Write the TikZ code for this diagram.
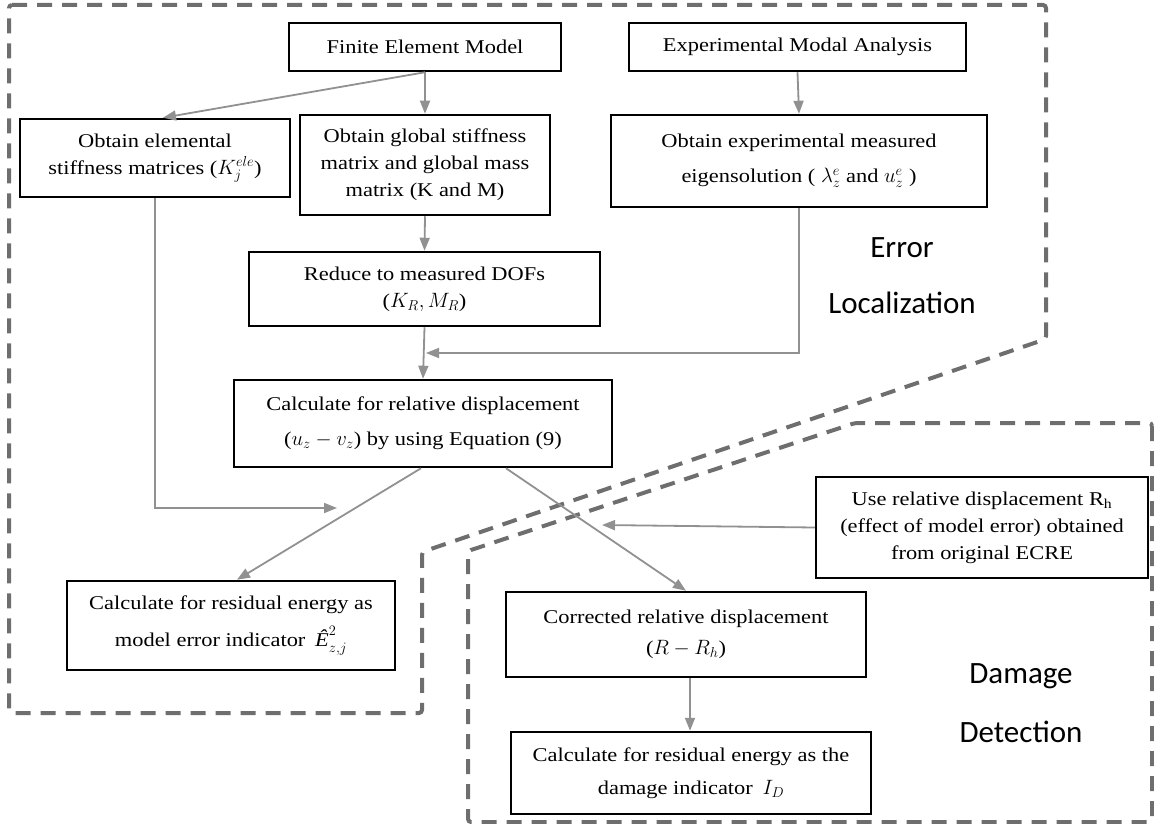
\documentclass[tikz,border=0pt]{standalone}
\usepackage{fontspec}
\setmainfont{Liberation Serif}[FakeStretch=1.15]
\newfontfamily\labelfont{Carlito}
\usetikzlibrary{arrows.meta,calc}

\definecolor{regiongray}{RGB}{110,110,110}
\definecolor{arrowgray}{RGB}{145,145,145}

\tikzset{
  stepbox/.style={draw=black, line width=2.5pt, fill=white, inner sep=2pt,
    align=center, font=\fontsize{19.5}{27}\selectfont},
  flow/.style={draw=arrowgray, line width=1.8pt,
    -{Triangle[length=13pt,width=10pt]}},
  region/.style={draw=regiongray, line width=4pt, dash pattern=on 15pt off 10pt,
    rounded corners=3pt},
  regionlabel/.style={font=\labelfont\fontsize{31}{36}\selectfont, anchor=base}
}

\begin{document}
\begin{tikzpicture}[x=1pt,y=-1pt]
\useasboundingbox (0,0) rectangle (1154,824);

% dashed regions
\draw[region] (9,5) -- (1046,5) -- (1046,339) -- (422,552) -- (422,713) -- (9,713) -- cycle;
\draw[region] (1152,423) -- (1152,822) -- (468,822) -- (468,551) -- (855,423) -- cycle;

% region titles
\node[regionlabel] (errA) at (902,257) {Error};
\node[regionlabel] (errB) at (902,313) {Localization};
\node[regionlabel] (dmgA) at (1021,683) {Damage};
\node[regionlabel] (dmgB) at (1021,742) {Detection};

% process boxes
\node[stepbox, minimum width=272pt, minimum height=48pt] (fem) at (425,47)
  {Finite Element Model};
\node[stepbox, minimum width=337pt, minimum height=48pt] (ema) at (797.5,47)
  {Experimental Modal Analysis};
\node[stepbox, minimum width=270pt, minimum height=78pt] (ele) at (155,158)
  {Obtain elemental\\stiffness matrices ($K_j^{ele}$)};
\node[stepbox, minimum width=250pt, minimum height=100pt] (glob) at (425,165)
  {Obtain global stiffness\\matrix and global mass\\matrix (K and M)};
\node[stepbox, minimum width=376pt, minimum height=92pt] (eig) at (799,161)
  {Obtain experimental measured\\[8pt]eigensolution ( $\lambda_z^e$ and $u_z^e$ )};
\node[stepbox, minimum width=351pt, minimum height=74pt] (red) at (424.5,289)
  {Reduce to measured DOFs\\($K_R, M_R$)};
\node[stepbox, minimum width=378pt, minimum height=87pt] (calc) at (423,423.5)
  {Calculate for relative displacement\\[8pt]($u_z - v_z$) by using Equation (9)};
\node[stepbox, minimum width=332pt, minimum height=101pt] (use) at (982,527.5)
  {Use relative displacement R\textsubscript{h}\\(effect of model error) obtained\\from original ECRE};
\node[stepbox, minimum width=328pt, minimum height=89pt] (res) at (231,625.5)
  {Calculate for residual energy as\\[10pt]model error indicator\enspace$\mbox{\itshape Ê}_{z,j}^{2}$};
\node[stepbox, minimum width=360pt, minimum height=85pt] (cor) at (686,634.5)
  {Corrected relative displacement\\[4pt]($R - R_h$)};
\node[stepbox, minimum width=360pt, minimum height=82pt] (dmg) at (691,773)
  {Calculate for residual energy as the\\[6pt]damage indicator\enspace$I_D$};

% free ends of the joining arrows
\coordinate (joinA) at (426,353);
\coordinate (joinB) at (337,508);
\coordinate (joinC) at (602,525);

% connectors
\draw[flow] (fem.south) -- ([xshift=8pt]ele.north);
\draw[flow] (fem.south) -- (glob.north);
\draw[flow] (ema.south) -- (eig.north);
\draw[flow] (glob.south) -- (red.north);
\draw[flow] (red.south) -- (calc.north);
\draw[flow] (eig.south) |- (joinA);
\draw[flow] (ele.south) |- (joinB);
\draw[flow] ([xshift=-2pt]calc.south) -- ([xshift=6pt]res.north);
\draw[flow] ([xshift=83pt]calc.south) -- (cor.north);
\draw[flow] (use.west) -- (joinC);
\draw[flow] (cor.south -| 690,0) -- (dmg.north -| 690,0);
\end{tikzpicture}
\end{document}
